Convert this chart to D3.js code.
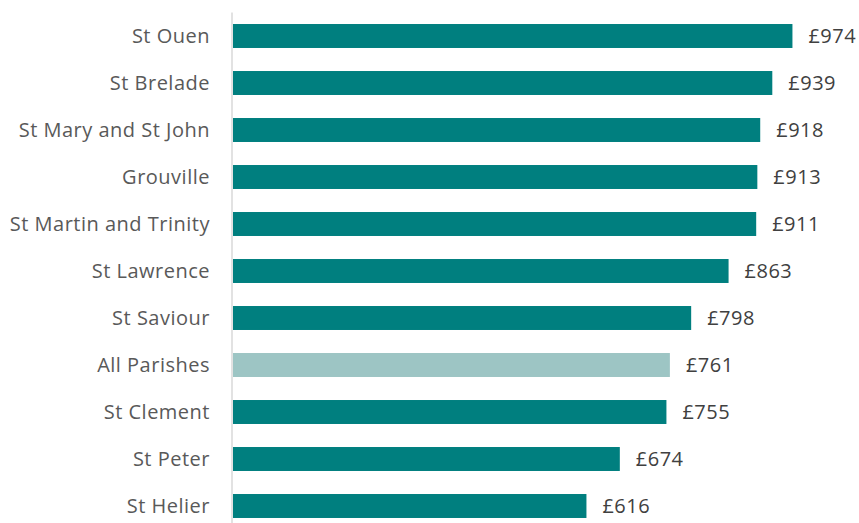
<!DOCTYPE html>
<html>
<head>
<meta charset="utf-8">
<script src="https://cdn.jsdelivr.net/npm/d3@7"></script>
<style>
  body { margin: 0; background: #fff; }
  svg { display: block; font-family: "Open Sans", "Noto Sans", sans-serif; }
</style>
</head>
<body>
<svg id="chart" width="859" height="523"></svg>
<script>
const parishes = [
  "St Ouen", "St Brelade", "St Mary and St John", "Grouville",
  "St Martin and Trinity", "St Lawrence", "St Saviour", "All Parishes",
  "St Clement", "St Peter", "St Helier"
];
const values = [974, 939, 918, 913, 911, 863, 798, 761, 755, 674, 616];
const highlight = "All Parishes";

const width = 859, height = 523;
const margin = { top: 12.5, left: 232 };

const data = parishes.map((p, i) => ({ name: p, value: values[i] }));

const svg = d3.select("#chart");

const x = d3.scaleLinear()
  .domain([0, 1000])
  .range([margin.left, margin.left + 575.4]);

const y = d3.scaleBand()
  .domain(parishes)
  .range([margin.top, margin.top + 47 * parishes.length])
  .paddingInner(0.49)
  .paddingOuter(0.245);

// bars
svg.append("g")
  .selectAll("rect")
  .data(data)
  .join("rect")
  .attr("x", x(0) + 1)
  .attr("y", d => y(d.name))
  .attr("width", d => x(d.value) - x(0) - 1)
  .attr("height", y.bandwidth())
  .attr("fill", d => d.name === highlight ? "#9dc5c4" : "#007f7f");

// category axis line
svg.append("line")
  .attr("x1", x(0)).attr("x2", x(0))
  .attr("y1", margin.top).attr("y2", height)
  .attr("stroke", "#d9d9d9")
  .attr("stroke-width", 1.5);

// category labels
svg.append("g")
  .selectAll("text")
  .data(data)
  .join("text")
  .attr("x", x(0) - 22)
  .attr("y", d => y(d.name) + y.bandwidth() / 2)
  .attr("dy", "0.36em")
  .attr("text-anchor", "end")
  .attr("font-size", 20)
  .attr("letter-spacing", "0.5px")
  .attr("fill", "#595959")
  .text(d => d.name);

// value labels
svg.append("g")
  .selectAll("text")
  .data(data)
  .join("text")
  .attr("x", d => x(d.value) + 16)
  .attr("y", d => y(d.name) + y.bandwidth() / 2)
  .attr("dy", "0.36em")
  .attr("font-size", 20)
  .attr("letter-spacing", "0.5px")
  .attr("fill", "#404040")
  .text(d => "£" + d.value);
</script>
</body>
</html>
